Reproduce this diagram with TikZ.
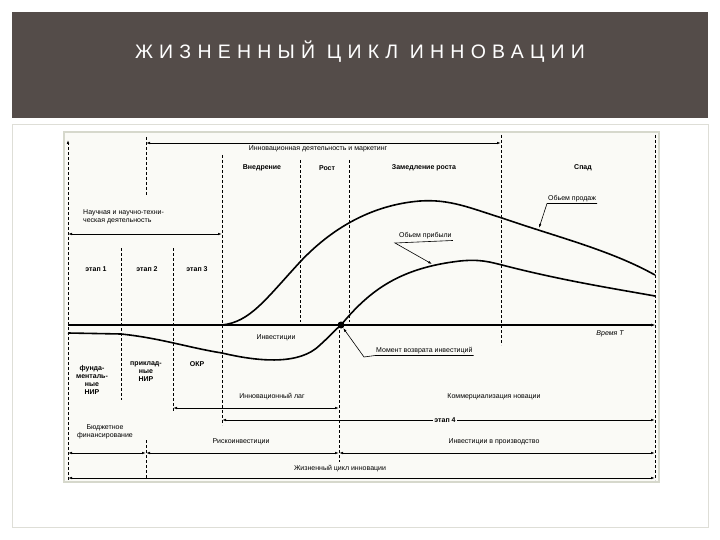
\documentclass[tikz,border=0pt]{standalone}
\usepackage{fontspec}
\setmainfont{Liberation Sans}
\newfontfamily\titlefont[LetterSpace=32]{Liberation Sans}
\usetikzlibrary{arrows.meta}
\begin{document}
\begin{tikzpicture}[x=1pt,y=-1pt,
  lbl/.style={font=\fontsize{7}{8}\selectfont,inner sep=1pt,align=center},
  blbl/.style={lbl,font=\fontsize{7}{8}\selectfont\bfseries},
  vd/.style={densely dashed,line width=0.6pt},
  dar/.style={line width=0.7pt,{Latex[length=4pt,width=2.5pt]}-{Latex[length=4pt,width=2.5pt]}},
  curve/.style={line width=1.6pt},
  lead/.style={line width=0.6pt}]
\useasboundingbox (0,0) rectangle (720,540);
\fill[white] (0,0) rectangle (720,540);
\fill[fill={rgb,255:red,84;green,76;blue,73}] (12,12) rectangle (708,118);
\node[text=white,font=\titlefont\fontsize{19.5}{22}\selectfont] (title) at (360,52) {ЖИЗНЕННЫЙ ЦИКЛ ИННОВАЦИИ};
\draw[draw={rgb,255:red,222;green,222;blue,215},line width=1pt] (12,125) rectangle (708,527);
\fill[fill={rgb,255:red,214;green,216;blue,204}] (63,131) rectangle (660,483);
\fill[fill={rgb,255:red,250;green,250;blue,246}] (65,133) rectangle (658,481);
% vertical dashed lines
\draw[vd,-{Latex[length=4pt,width=2.5pt]}] (68,480) -- (68,140);
\draw[vd] (146,137) -- (146,196);
\draw[vd] (146,440) -- (146,478);
\draw[vd] (222,155) -- (222,425);
\draw[vd] (121,248) -- (121,400);
\draw[vd] (173,248) -- (173,412);
\draw[vd] (300,160) -- (300,322);
\draw[vd] (349,160) -- (349,322);
\draw[vd] (339,330) -- (339,462);
\draw[vd] (501,135) -- (501,345);
\draw[vd] (655,135) -- (655,480);
% top arrow
\coordinate (ia) at (146,143); \coordinate (ib) at (501,143);
\draw[dar] (ia) -- (ib);
\node[lbl] (iact) at (318,149) {Инновационная деятельность и маркетинг};
\node[blbl] (vn) at (262,168) {Внедрение};
\node[blbl] (rost) at (327,168) {Рост};
\node[blbl] (zam) at (424,168) {Замедление роста};
\node[blbl] (spad) at (583,168) {Спад};
\node[lbl,align=left,anchor=west] (nauch) at (82,217) {Научная и научно-техни-\\ческая деятельность};
\coordinate (na) at (68,234); \coordinate (nb) at (222,234);
\draw[dar] (na) -- (nb);
\node[blbl] (e1) at (96,269) {этап 1};
\node[blbl] (e2) at (147,269) {этап 2};
\node[blbl] (e3) at (197,269) {этап 3};
% time axis
\coordinate (t0) at (68,325); \coordinate (t1) at (656,325);
\draw[line width=1.6pt,-{Latex[length=5pt,width=3pt]}] (t0) -- (t1);
\node[lbl,font=\fontsize{7}{8}\selectfont\itshape] (time) at (610,334) {Время T};
% sales
\draw[curve] (222,325) .. controls (250,322) and (265,300) .. (300,262)
  .. controls (330,230) and (370,205) .. (420,201)
  .. controls (450,199) and (470,208) .. (502,218)
  .. controls (560,238) and (610,250) .. (655,275);
% investment + profit
\draw[curve] (68,333) -- (121,334) .. controls (160,338) and (190,348) .. (222,353)
  .. controls (260,362) and (300,365) .. (320,345)
  .. controls (330,336) and (335,330) .. (341,325)
  .. controls (370,290) and (400,268) .. (460,261)
  .. controls (480,259) and (490,262) .. (502,265)
  .. controls (560,280) and (610,288) .. (655,296);
\node[circle,fill=black,inner sep=0pt,minimum size=7pt] (dot) at (341,325) {};
\node[lbl] (inv) at (276,338) {Инвестиции};
\node[lbl,anchor=west] (mom) at (375,351) {Момент возврата инвестиций};
\coordinate (m1) at (364,357);
\draw[lead,-{Latex[length=4pt,width=2.5pt]}] (mom.south east) -- (mom.south west) -- (m1) -- (dot);
\node[lbl,anchor=west] (sales) at (547,199) {Обьем продаж};
\coordinate (s0) at (539,228);
\draw[lead,-{Latex[length=4pt,width=2.5pt]}] (sales.south east) -- (sales.south west) -- (s0);
\node[lbl,anchor=west] (prof) at (398,236) {Обьем прибыли};
\coordinate (p0) at (432,264);
\draw[lead,-{Latex[length=4pt,width=2.5pt]}] (prof.south east) -- (395,243) -- (p0);
% lower labels
\node[blbl] (fund) at (92,380) {фунда-\\менталь-\\ные\\НИР};
\node[blbl] (prik) at (146,372) {приклад-\\ные\\НИР};
\node[blbl] (okr) at (197,364) {ОКР};
\node[lbl] (lag) at (272,397) {Инновационный лаг};
\coordinate (la) at (173,408); \coordinate (lb) at (339,408);
\draw[dar] (la) -- (lb);
\node[lbl] (komm) at (494,397) {Коммерциализация новации};
\coordinate (ka) at (222,420); \coordinate (kb) at (655,420);
\draw[dar] (ka) -- (kb);
\node[blbl,fill={rgb,255:red,250;green,250;blue,246}] (e4) at (445,420) {этап 4};
\node[lbl] (bud) at (105,432) {Бюджетное\\финансирование};
\node[lbl] (risk) at (241,442) {Рискоинвестиции};
\node[lbl] (prod) at (494,442) {Инвестиции в производство};
\coordinate (b0) at (68,453); \coordinate (b1) at (146,453); \coordinate (b2) at (339,453); \coordinate (b3) at (655,453);
\draw[dar] (b0) -- (b1); \draw[dar] (b1) -- (b2); \draw[dar] (b2) -- (b3);
\node[lbl] (life) at (340,469) {Жизненный цикл инновации};
\coordinate (c0) at (68,478); \coordinate (c1) at (655,478);
\draw[dar] (c0) -- (c1);
\end{tikzpicture}
\end{document}
